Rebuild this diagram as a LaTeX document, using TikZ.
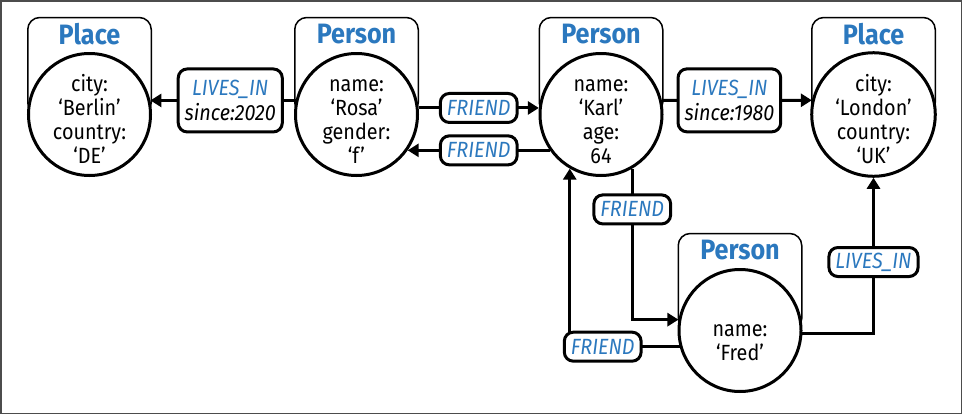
\documentclass[tikz,border=0pt]{standalone}
\usepackage{fontspec}
\setmainfont{Fira Sans}[FakeStretch=0.9]
\usetikzlibrary{arrows.meta,backgrounds}
\definecolor{tagblue}{RGB}{43,120,190}

\begin{document}
\begin{tikzpicture}
[
	x=1pt, y=-1pt,
	entity/.style={circle,draw,fill=white,line width=3pt,minimum size=122pt,inner sep=0pt,align=center,text height=97pt,text depth=0pt,font=\fontsize{22}{24}\selectfont},
	tagbox/.style={draw,line width=1.5pt,rounded corners=12pt},
	tagtext/.style={font=\fontsize{28}{30}\selectfont\bfseries,text=tagblue},
	rel/.style={line width=3pt,-{Triangle[length=11pt,width=13pt]}},
	elabel/.style={draw,fill=white,line width=3pt,rounded corners=9pt,inner xsep=6.5pt,inner ysep=3pt,minimum height=29pt,align=center,text=tagblue,font=\fontsize{22}{25}\selectfont\itshape},
	twoline/.style={minimum height=63pt}
]

	\useasboundingbox (0,0) rectangle (962,418);

	% frame
	\draw[line width=1.5pt,black!70] (0.75,0.75) rectangle (961.25,413.5);

	% nodes
	\node[entity] (berlin) at (89.5,114.5) {city:\\‘Berlin’\\country:\\‘DE’};
	\node[entity] (rosa) at (356.5,114.5) {name:\\‘Rosa’\\gender:\\‘f’};
	\node[entity] (karl) at (601,114.5) {name:\\‘Karl’\\age:\\64};
	\node[entity] (london) at (873.5,114.5) {city:\\‘London’\\country:\\‘UK’};
	\node[entity,text height=59pt] (fred) at (740,330.5) {name:\\‘Fred’};

	% labels behind the nodes
	\begin{scope}[on background layer]
	\foreach \n/\t in {berlin/Place,rosa/Person,karl/Person,london/Place,fred/Person}
	{
		\draw[tagbox] (\n.center) ++(-61.75,0) rectangle ++(123.5,-97);
		\node[tagtext] at ([yshift=80pt]\n.center) {\t};
	}
	\end{scope}

	% relationships
	\draw[rel] (rosa.167) -- (berlin.13) node[elabel,twoline,pos=0.45] {LIVES\_IN\\\textcolor{black}{since:2020}};
	\draw[rel] (rosa.6) -- (karl.174) node[elabel,midway] {FRIEND};
	\draw[rel] (karl.215) -- (rosa.-35) node[elabel,midway] {FRIEND};
	\draw[rel] (karl.13) -- (london.167) node[elabel,twoline,pos=0.45] {LIVES\_IN\\\textcolor{black}{since:1980}};
	\draw[rel] (karl.-60) |- (fred.170) node[elabel,pos=0.135] {FRIEND};
	\draw[rel] (fred.195) -| (karl.240) node[elabel,pos=0.35] {FRIEND};
	\draw[rel] (fred.-3) -| (london.south) node[elabel,pos=0.73] {LIVES\_IN};

\end{tikzpicture}
\end{document}
